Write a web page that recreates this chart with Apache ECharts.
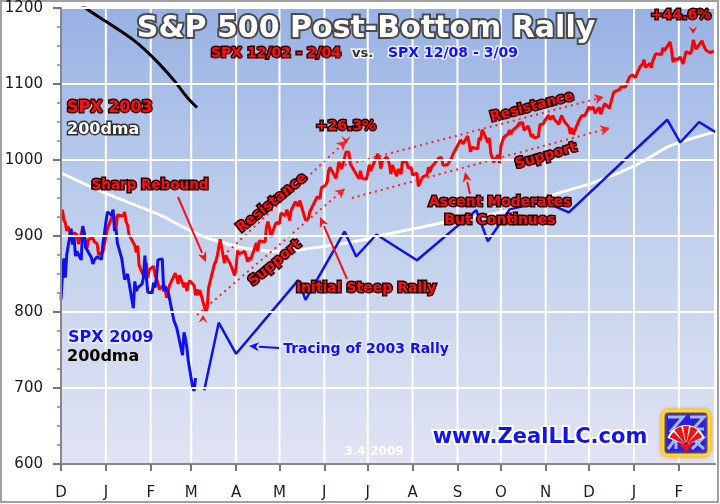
<!DOCTYPE html>
<html><head><meta charset="utf-8">
<script src="https://cdn.jsdelivr.net/npm/echarts@6/dist/echarts.min.js"></script>
<style>html,body{margin:0;padding:0;background:#fff}#c{width:720px;height:504px}</style>
</head><body><div id="c"></div>
<script>
// ---------- DATA ----------
const monthStarts = ['2002-12-01','2003-01-01','2003-02-01','2003-03-01','2003-04-01','2003-05-01','2003-06-01','2003-07-01','2003-08-01','2003-09-01','2003-10-01','2003-11-01','2003-12-01','2004-01-01','2004-02-01'];
const monthLabels = ['D','J','F','M','A','M','J','J','A','S','O','N','D','J','F'];
const yTicks = [600,700,800,900,1000,1100,1200];

// SPX 12/02 - 2/04 daily closes
const spx2003 = [
['2002-12-02',934.5],['2002-12-03',920.8],['2002-12-04',917.6],['2002-12-05',906.6],['2002-12-06',912.2],['2002-12-09',892.0],['2002-12-10',904.5],['2002-12-11',905.0],['2002-12-12',901.6],['2002-12-13',889.5],['2002-12-16',910.4],['2002-12-17',903.0],['2002-12-18',891.1],['2002-12-19',884.3],['2002-12-20',895.8],['2002-12-23',897.4],['2002-12-24',892.5],['2002-12-26',889.7],['2002-12-27',875.4],['2002-12-30',879.4],['2002-12-31',879.8],
['2003-01-02',909.0],['2003-01-03',908.6],['2003-01-06',929.0],['2003-01-07',922.9],['2003-01-08',909.9],['2003-01-09',927.6],['2003-01-10',927.6],['2003-01-13',926.3],['2003-01-14',931.7],['2003-01-15',918.2],['2003-01-16',914.6],['2003-01-17',901.8],['2003-01-21',887.6],['2003-01-22',878.4],['2003-01-23',887.3],['2003-01-24',861.4],['2003-01-27',847.5],['2003-01-28',858.5],['2003-01-29',864.4],['2003-01-30',844.6],['2003-01-31',855.7],
['2003-02-03',860.3],['2003-02-04',848.2],['2003-02-05',843.6],['2003-02-06',838.2],['2003-02-07',829.7],['2003-02-10',836.0],['2003-02-11',829.2],['2003-02-12',818.7],['2003-02-13',817.4],['2003-02-14',834.9],['2003-02-18',851.2],['2003-02-19',845.1],['2003-02-20',837.1],['2003-02-21',848.2],['2003-02-24',832.6],['2003-02-25',838.6],['2003-02-26',827.6],['2003-02-27',837.3],['2003-02-28',841.2],
['2003-03-03',834.8],['2003-03-04',822.0],['2003-03-05',829.9],['2003-03-06',822.1],['2003-03-07',828.9],['2003-03-10',807.5],['2003-03-11',800.7],['2003-03-12',804.2],['2003-03-13',831.9],['2003-03-14',833.3],['2003-03-17',862.8],['2003-03-18',866.5],['2003-03-19',874.0],['2003-03-20',875.7],['2003-03-21',895.8],['2003-03-24',864.2],['2003-03-25',874.7],['2003-03-26',870.0],['2003-03-27',868.5],['2003-03-28',863.5],['2003-03-31',848.2],
['2003-04-01',858.5],['2003-04-02',880.9],['2003-04-03',876.5],['2003-04-04',878.9],['2003-04-07',879.9],['2003-04-08',878.3],['2003-04-09',866.0],['2003-04-10',871.6],['2003-04-11',868.3],['2003-04-14',885.2],['2003-04-15',890.8],['2003-04-16',879.9],['2003-04-17',893.6],['2003-04-21',892.0],['2003-04-22',911.4],['2003-04-23',919.0],['2003-04-24',911.4],['2003-04-25',898.8],['2003-04-28',914.8],['2003-04-29',917.8],['2003-04-30',916.9],
['2003-05-01',916.3],['2003-05-02',930.1],['2003-05-05',926.6],['2003-05-06',934.4],['2003-05-07',929.6],['2003-05-08',920.3],['2003-05-09',933.4],['2003-05-12',945.1],['2003-05-13',942.3],['2003-05-14',939.3],['2003-05-15',946.7],['2003-05-16',944.3],['2003-05-19',920.8],['2003-05-20',919.7],['2003-05-21',923.4],['2003-05-22',931.9],['2003-05-23',933.2],['2003-05-27',951.5],['2003-05-28',953.2],['2003-05-29',949.6],['2003-05-30',963.6],
['2003-06-02',967.0],['2003-06-03',971.6],['2003-06-04',986.2],['2003-06-05',990.1],['2003-06-06',987.8],['2003-06-09',975.9],['2003-06-10',984.8],['2003-06-11',997.5],['2003-06-12',998.5],['2003-06-13',988.6],['2003-06-16',1010.7],['2003-06-17',1011.7],['2003-06-18',1010.1],['2003-06-19',994.7],['2003-06-20',995.7],['2003-06-23',981.6],['2003-06-24',983.5],['2003-06-25',975.3],['2003-06-26',985.8],['2003-06-27',976.2],['2003-06-30',974.5],
['2003-07-01',982.3],['2003-07-02',993.8],['2003-07-03',985.7],['2003-07-07',1004.4],['2003-07-08',1007.8],['2003-07-09',1002.2],['2003-07-10',988.7],['2003-07-11',998.1],['2003-07-14',1003.9],['2003-07-15',1000.4],['2003-07-16',994.1],['2003-07-17',981.7],['2003-07-18',993.3],['2003-07-21',978.8],['2003-07-22',988.1],['2003-07-23',988.6],['2003-07-24',981.6],['2003-07-25',998.7],['2003-07-28',996.5],['2003-07-29',989.3],['2003-07-30',987.5],['2003-07-31',990.3],
['2003-08-01',980.2],['2003-08-04',982.8],['2003-08-05',965.5],['2003-08-06',967.1],['2003-08-07',974.1],['2003-08-08',977.6],['2003-08-11',980.6],['2003-08-12',990.4],['2003-08-13',984.0],['2003-08-14',990.5],['2003-08-15',990.7],['2003-08-18',999.7],['2003-08-19',1002.4],['2003-08-20',1000.3],['2003-08-21',1003.3],['2003-08-22',993.1],['2003-08-25',993.7],['2003-08-26',996.7],['2003-08-27',996.8],['2003-08-28',1002.8],['2003-08-29',1008.0],
['2003-09-02',1022.0],['2003-09-03',1026.3],['2003-09-04',1028.0],['2003-09-05',1021.4],['2003-09-08',1031.6],['2003-09-09',1023.2],['2003-09-10',1010.9],['2003-09-11',1016.4],['2003-09-12',1018.6],['2003-09-15',1014.8],['2003-09-16',1029.3],['2003-09-17',1026.0],['2003-09-18',1039.6],['2003-09-19',1036.3],['2003-09-22',1022.8],['2003-09-23',1029.0],['2003-09-24',1009.4],['2003-09-25',1003.3],['2003-09-26',996.9],['2003-09-29',1006.6],['2003-09-30',996.0],
['2003-10-01',1018.2],['2003-10-02',1020.2],['2003-10-03',1029.9],['2003-10-06',1034.4],['2003-10-07',1039.3],['2003-10-08',1033.8],['2003-10-09',1038.7],['2003-10-10',1038.1],['2003-10-13',1045.4],['2003-10-14',1049.5],['2003-10-15',1046.8],['2003-10-16',1050.1],['2003-10-17',1039.3],['2003-10-20',1044.7],['2003-10-21',1046.0],['2003-10-22',1030.4],['2003-10-23',1033.8],['2003-10-24',1028.9],['2003-10-27',1031.1],['2003-10-28',1046.8],['2003-10-29',1048.1],['2003-10-30',1046.9],['2003-10-31',1050.7],
['2003-11-03',1059.0],['2003-11-04',1053.3],['2003-11-05',1051.8],['2003-11-06',1058.1],['2003-11-07',1053.2],['2003-11-10',1047.1],['2003-11-11',1046.6],['2003-11-12',1058.5],['2003-11-13',1058.4],['2003-11-14',1050.4],['2003-11-17',1043.6],['2003-11-18',1034.2],['2003-11-19',1042.4],['2003-11-20',1033.7],['2003-11-21',1035.3],['2003-11-24',1052.1],['2003-11-25',1053.9],['2003-11-26',1058.5],['2003-11-28',1058.2],
['2003-12-01',1070.1],['2003-12-02',1066.6],['2003-12-03',1064.7],['2003-12-04',1069.7],['2003-12-05',1061.5],['2003-12-08',1069.3],['2003-12-09',1060.2],['2003-12-10',1059.1],['2003-12-11',1071.2],['2003-12-12',1074.1],['2003-12-15',1068.0],['2003-12-16',1075.1],['2003-12-17',1076.5],['2003-12-18',1089.2],['2003-12-19',1088.7],['2003-12-22',1092.9],['2003-12-23',1096.0],['2003-12-24',1094.0],['2003-12-26',1095.9],['2003-12-29',1109.5],['2003-12-30',1109.6],['2003-12-31',1111.9],
['2004-01-02',1108.5],['2004-01-05',1122.2],['2004-01-06',1123.7],['2004-01-07',1126.3],['2004-01-08',1131.9],['2004-01-09',1121.9],['2004-01-12',1127.2],['2004-01-13',1121.2],['2004-01-14',1130.5],['2004-01-15',1132.1],['2004-01-16',1139.8],['2004-01-20',1138.8],['2004-01-21',1147.6],['2004-01-22',1143.9],['2004-01-23',1141.6],['2004-01-26',1155.4],['2004-01-27',1144.1],['2004-01-28',1128.5],['2004-01-29',1134.1],['2004-01-30',1131.1],
['2004-02-02',1135.3],['2004-02-03',1136.0],['2004-02-04',1126.5],['2004-02-05',1128.6],['2004-02-06',1142.8],['2004-02-09',1139.8],['2004-02-10',1145.5],['2004-02-11',1157.8],['2004-02-12',1152.1],['2004-02-13',1145.8],['2004-02-17',1157.0],['2004-02-18',1151.8],['2004-02-19',1147.1],['2004-02-20',1144.1],['2004-02-23',1141.0],['2004-02-24',1139.1],['2004-02-25',1143.7]
];

// SPX 12/08 - 3/09 daily closes
const spx2009 = [
['2008-12-01',816.2],['2008-12-02',848.8],['2008-12-03',870.7],['2008-12-04',845.2],['2008-12-05',876.1],['2008-12-08',909.7],['2008-12-09',888.7],['2008-12-10',899.2],['2008-12-11',873.6],['2008-12-12',879.7],['2008-12-15',868.6],['2008-12-16',913.2],['2008-12-17',904.4],['2008-12-18',885.3],['2008-12-19',887.9],['2008-12-22',871.6],['2008-12-23',863.2],['2008-12-24',868.2],['2008-12-26',872.8],['2008-12-29',869.4],['2008-12-30',890.6],['2008-12-31',903.3],
['2009-01-02',931.8],['2009-01-05',927.5],['2009-01-06',934.7],['2009-01-07',906.7],['2009-01-08',909.7],['2009-01-09',890.4],['2009-01-12',870.3],['2009-01-13',871.8],['2009-01-14',842.6],['2009-01-15',843.7],['2009-01-16',850.1],['2009-01-20',805.2],['2009-01-21',840.2],['2009-01-22',827.5],['2009-01-23',832.0],['2009-01-26',836.6],['2009-01-27',845.7],['2009-01-28',874.1],['2009-01-29',845.1],['2009-01-30',825.9],
['2009-02-02',825.4],['2009-02-03',838.5],['2009-02-04',832.2],['2009-02-05',845.9],['2009-02-06',868.6],['2009-02-09',869.9],['2009-02-10',827.2],['2009-02-11',833.7],['2009-02-12',835.2],['2009-02-13',826.8],['2009-02-17',789.2],['2009-02-18',788.4],['2009-02-19',778.9],['2009-02-20',770.1],['2009-02-23',743.3],['2009-02-24',773.1],['2009-02-25',764.9],['2009-02-26',752.8],['2009-02-27',735.1],
['2009-03-02',700.8],['2009-03-03',696.3],['2009-03-04',712.9]
];

// Tracing of 2003 rally projected onto 2009
const tracing2009 = [
['2009-03-10',697],['2009-03-20',786],['2009-04-01',745],['2009-05-14',842],['2009-05-19',816],['2009-06-15',906],['2009-06-23',873],['2009-07-07',902],['2009-08-04',868],['2009-09-14',934],['2009-09-22',893],['2009-10-07',935],['2009-10-31',945],['2009-11-17',931],['2010-01-24',1053],['2010-02-02',1023],['2010-02-15',1050],['2010-02-26',1037]
];

// 200-day moving averages
const dma2003 = [
['2002-12-01',983],['2003-01-01',956],['2003-02-07',928],['2003-02-21',914],['2003-03-07',901],['2003-03-16',895],['2003-04-04',885],['2003-04-15',882],['2003-05-01',879],['2003-05-15',882],['2003-05-31',886],['2003-06-23',893],['2003-07-16',903],['2003-08-08',912],['2003-08-31',921],['2003-09-23',928],['2003-10-16',939],['2003-11-09',956],['2003-12-02',969],['2003-12-24',985],['2004-01-07',998],['2004-01-24',1017],['2004-02-06',1026],['2004-02-26',1037]
];
const dma2009 = [
['2008-12-01',1228],['2008-12-18',1200],['2009-01-03',1180],['2009-01-20',1158],['2009-02-03',1134],['2009-02-17',1105],['2009-02-26',1083],['2009-03-05',1069]
];

// Trend channels [start date, value], [end date, value]
const resistance1 = [['2003-03-26',879],['2003-06-16',1025]];
const support1   = [['2003-03-05',796],['2003-06-15',962]];
const resistance2 = [['2003-06-15',993],['2003-12-11',1083]];
const support2   = [['2003-06-20',950],['2003-12-15',1042]];

// ---------- HELPERS ----------
const DAY = 86400000;
function off(d, base){ return (Date.parse(d) - Date.parse(base)) / DAY; }
const toXY03 = arr => arr.map(([d,v]) => [off(d,'2002-12-01'), v]);
const toXY09 = arr => arr.map(([d,v]) => [off(d,'2008-12-01'), v]);
const monthDays = monthStarts.map(d => off(d,'2002-12-01'));
const xMax = off('2004-02-26','2002-12-01');
const yMin = yTicks[0], yMax = yTicks[yTicks.length-1];
const gridLinesX = monthDays.slice(1).concat([xMax]);

const FONT = '"DejaVu Sans", Verdana, sans-serif';
function txt(text, x, y, o){
  o = o || {};
  return {
    type:'text', x:x, y:y, rotation:(o.rot||0)*Math.PI/180, z:100,
    style:{
      text:text, x:0, y:0, align:o.align||'center', verticalAlign:'middle',
      font:(o.weight||'bold')+' '+(o.size||14)+'px '+FONT,
      fill:o.fill||'#ff1010', stroke:o.stroke===undefined?'#200000':o.stroke, lineWidth:o.lw===undefined?3:o.lw,
      shadowColor:o.sc||'rgba(0,0,0,0.45)', shadowBlur:o.sb===undefined?3:o.sb,
      shadowOffsetX:o.sx||0, shadowOffsetY:o.sy||0
    }
  };
}
function pointer(x1,y1,x2,y2,color){
  const a = Math.atan2(y2-y1,x2-x1), L=10, W=4.5;
  const bx = x2 - L*Math.cos(a), by = y2 - L*Math.sin(a);
  const px = -Math.sin(a), py = Math.cos(a);
  return [
    {type:'line', z:90, shape:{x1:x1,y1:y1,x2:bx,y2:by}, style:{stroke:color,lineWidth:2}},
    {type:'polygon', z:90, shape:{points:[[x2,y2],[bx+px*W,by+py*W],[bx+Math.cos(a)*3,by+Math.sin(a)*3],[bx-px*W,by-py*W]]}, style:{fill:color}}
  ];
}
function chevron(x,y,dir){
  const h=8*dir*-1;
  return {type:'polygon', z:90, shape:{points:[[x,y],[x-4.5,y+h],[x,y+h*0.55],[x+4.5,y+h]]}, style:{fill:'#ff1010'}};
}
function trend(pair){
  return [{coord:[off(pair[0][0],'2002-12-01'),pair[0][1]]},{coord:[off(pair[1][0],'2002-12-01'),pair[1][1]]}];
}

// ---------- CHART ----------
const chart = echarts.init(document.getElementById('c'), null, {renderer:'canvas'});
const GL = 61, GT = 8, GW = 654, GH = 456;
const graphics = [
  {type:'rect', z:-100, silent:true, shape:{x:GL,y:GT,width:GW,height:GH},
    style:{fill:{type:'linear',x:0,y:0,x2:0,y2:1,colorStops:[
      {offset:0,color:'#98b1e4'},{offset:0.3,color:'#b3c6ea'},{offset:0.6,color:'#c8d5ee'},{offset:0.85,color:'#d7def2'},{offset:1,color:'#e2e3f3'}]}}},
  {type:'rect', z:-10, silent:true, shape:{x:1,y:1,width:717,height:501}, style:{fill:'none',stroke:'#a0a0a0',lineWidth:2}},
  txt('S&P 500 Post-Bottom Rally', 366, 29, {size:30, fill:'#ffffff', stroke:'#4a4a4a', lw:4, sc:'rgba(0,0,0,0.6)', sb:3, sx:2, sy:2}),
  txt('SPX 12/02 - 2/04', 211, 53, {align:'left', size:14, fill:'#ff1010', stroke:'#300000', lw:3}),
  txt('vs.', 352, 54, {align:'left', size:13, fill:'#333333', stroke:'#ffffff', lw:3}),
  txt('SPX 12/08 - 3/09', 388, 53, {align:'left', size:14, fill:'#1010ff', stroke:'#e8ecf8', lw:3, sc:'rgba(0,0,0,0.35)'}),
  txt('SPX 2003', 67, 108, {align:'left', size:16, fill:'#ff1010', stroke:'#300000', lw:3}),
  txt('200dma', 67, 130, {align:'left', size:16, fill:'#ffffff', stroke:'#303030', lw:3}),
  txt('SPX 2009', 68, 338, {align:'left', size:16, fill:'#1010ff', stroke:'#f0f2fa', lw:3}),
  txt('200dma', 67, 357, {align:'left', size:16, fill:'#000000', stroke:'#d8dae4', lw:3}),
  txt('Sharp Rebound', 150, 185, {size:13.5}),
  txt('Resistance', 272, 203, {size:14, rot:39}),
  txt('Support', 275, 263, {size:14, rot:40}),
  txt('+26.3%', 346, 126, {size:14}),
  txt('Initial Steep Rally', 366, 288, {size:14}),
  txt('Resistance', 532, 107, {size:14, rot:15}),
  txt('Support', 546, 156, {size:14, rot:16}),
  txt('Ascent Moderates', 500, 202, {size:14}),
  txt('But Continues', 500, 220, {size:14}),
  txt('+44.6%', 681, 15, {size:14}),
  txt('Tracing of 2003 Rally', 366, 349, {size:14, fill:'#1010ff', stroke:'#e4e8f6', lw:3, sc:'rgba(0,0,0,0.5)'}),
  txt('3.4.2009', 374, 452, {size:12, fill:'#ffffff', stroke:null, lw:0, sb:0}),
  txt('www.ZealLLC.com', 540, 438, {size:21, fill:'#1414f0', stroke:'#ffffff', lw:4, sc:'rgba(0,0,0,0.35)'}),
  chevron(203,315,-1), chevron(346,144,1), chevron(693,34,1),
  {type:'rect', z:95, shape:{x:663,y:411,width:46,height:44,r:5}, style:{fill:'#2222dd',stroke:'#ffe000',lineWidth:3,shadowColor:'rgba(255,120,0,0.8)',shadowBlur:4}},
  {type:'polyline', z:96, shape:{points:[[668,417],[683,417],[670,432]]}, style:{stroke:'#aab4ff',lineWidth:3,fill:null}},
  {type:'polyline', z:96, shape:{points:[[690,417],[704,417],[693,429],[704,429]]}, style:{stroke:'#aab4ff',lineWidth:3,fill:null}},
  {type:'polyline', z:96, shape:{points:[[668,449],[676,438],[676,449]]}, style:{stroke:'#aab4ff',lineWidth:3,fill:null}},
  {type:'polyline', z:96, shape:{points:[[692,449],[703,438],[692,438],[704,449]]}, style:{stroke:'#aab4ff',lineWidth:3,fill:null}},
  {type:'sector', z:97, shape:{cx:686,cy:445,r0:3,r:20,startAngle:Math.PI*1.12,endAngle:Math.PI*1.88}, style:{fill:'#ffffff'}},
  {type:'sector', z:98, shape:{cx:686,cy:445,r0:3,r:18,startAngle:Math.PI*1.14,endAngle:Math.PI*1.26}, style:{fill:'#ee1111'}},
  {type:'sector', z:98, shape:{cx:686,cy:445,r0:3,r:19,startAngle:Math.PI*1.29,endAngle:Math.PI*1.42}, style:{fill:'#ee1111'}},
  {type:'sector', z:98, shape:{cx:686,cy:445,r0:3,r:19,startAngle:Math.PI*1.45,endAngle:Math.PI*1.55}, style:{fill:'#ee1111'}},
  {type:'sector', z:98, shape:{cx:686,cy:445,r0:3,r:19,startAngle:Math.PI*1.58,endAngle:Math.PI*1.71}, style:{fill:'#ee1111'}},
  {type:'sector', z:98, shape:{cx:686,cy:445,r0:3,r:18,startAngle:Math.PI*1.74,endAngle:Math.PI*1.86}, style:{fill:'#ee1111'}},
  {type:'polygon', z:98, shape:{points:[[679,444],[693,444],[686,452]]}, style:{fill:'#ee1111'}}
].concat(
  pointer(178,197,206,262,'#ff1010'),
  pointer(347,279,320,217,'#ff1010'),
  pointer(470,194,465,172,'#ff1010'),
  pointer(279,348,249,346,'#1010ff')
);

// one vertical white line per month, drawn through the axis scales
const monthGridSeries = gridLinesX.map((d, i) => ({
  name:'month grid ' + i, type:'line', data:[[d,yMin],[d,yMax]], showSymbol:false, z:1, silent:true,
  lineStyle:{color:'#ffffff', width:2}
}));

const option = {
  animation:false,
  backgroundColor:'#ffffff',
  grid:{left:GL, top:GT, width:GW, height:GH, show:false},
  xAxis:{type:'value', min:0, max:xMax, z:6,
    axisLine:{show:true, onZero:false, lineStyle:{color:'#888888', width:2}},
    axisTick:{show:true, length:7, customValues:monthDays, lineStyle:{color:'#777777', width:2}},
    axisLabel:{customValues:monthDays, margin:22, color:'#2a1a1a', fontSize:15, fontFamily:FONT,
      formatter:v => { const i = monthDays.findIndex(m => Math.abs(m-v)<0.5); return i>=0?monthLabels[i]:''; }},
    splitLine:{show:false}
  },
  yAxis:{type:'value', min:yMin, max:yMax, interval:100, z:6,
    axisLine:{show:true, lineStyle:{color:'#888888', width:2}},
    axisTick:{show:true, length:8, lineStyle:{color:'#777777', width:2}},
    minorTick:{show:true, splitNumber:4, length:4, lineStyle:{color:'#888888', width:1.5}},
    axisLabel:{margin:18, color:'#1a1a1a', fontSize:15, fontFamily:FONT, formatter:v => String(v)},
    splitLine:{show:true, lineStyle:{color:'#ffffff', width:2}}
  },
  series: monthGridSeries.concat([
    {name:'SPX 2003 200dma', type:'line', data:toXY03(dma2003), showSymbol:false, smooth:0.3, z:3,
      lineStyle:{color:'#ffffff', width:3}},
    {name:'SPX 2009 200dma', type:'line', data:toXY09(dma2009), showSymbol:false, smooth:0.3, z:3, clip:true,
      lineStyle:{color:'#000000', width:3}},
    {name:'SPX 12/02 - 2/04', type:'line', data:toXY03(spx2003), showSymbol:false, z:4,
      lineStyle:{color:'#ff0000', width:3},
      markLine:{silent:true, symbol:['none','arrow'], symbolSize:[8,9], label:{show:false},
        lineStyle:{color:'#ff2020', width:2, type:[2,4]},
        data:[trend(resistance1), trend(support1), trend(resistance2), trend(support2)]}},
    {name:'SPX 12/08 - 3/09', type:'line', data:toXY09(spx2009), showSymbol:false, z:5,
      lineStyle:{color:'#1010f0', width:3}},
    {name:'Tracing of 2003 Rally', type:'line', data:toXY09(tracing2009), showSymbol:false, z:5,
      lineStyle:{color:'#1010f0', width:2.5}}
  ]),
  graphic:graphics
};
chart.setOption(option);
</script></body></html>
